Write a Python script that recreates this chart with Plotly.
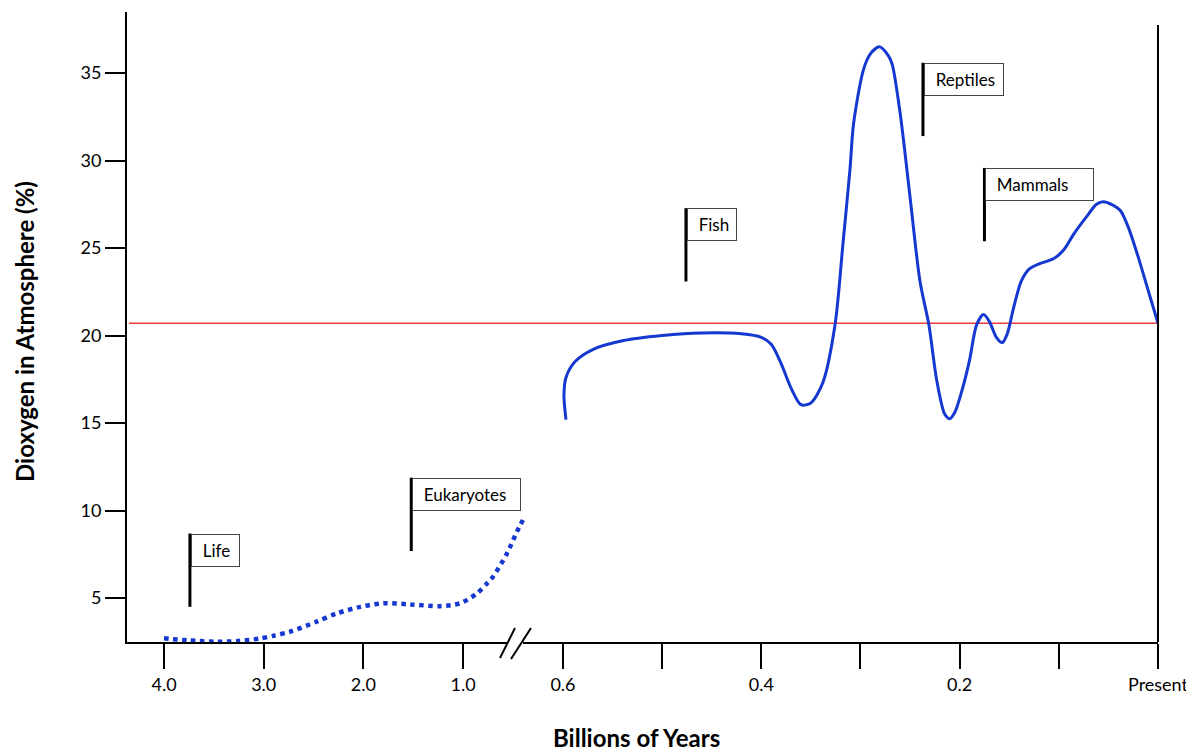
import plotly.graph_objects as go

# ---- data ----
# early Earth (billions of years ago), dotted
early_age = [4.00, 3.75, 3.47, 3.25, 3.05, 2.90, 2.74, 2.47, 2.27, 2.03, 1.80, 1.53,
             1.23, 1.03, 0.86, 0.76, 0.70, 0.56, 0.46, 0.40]
early_o2 = [2.70, 2.58, 2.50, 2.55, 2.68, 2.85, 3.07, 3.65, 4.12, 4.50, 4.70, 4.64,
            4.54, 4.70, 5.27, 5.84, 6.22, 7.55, 8.79, 9.46]

# Phanerozoic (billions of years ago), solid
late_age = [0.597, 0.599, 0.597, 0.588, 0.570, 0.540, 0.500, 0.460, 0.420, 0.400,
            0.390, 0.380, 0.370, 0.360, 0.350, 0.338, 0.3257, 0.3176, 0.3106, 0.307,
            0.297, 0.290, 0.281, 0.272, 0.268, 0.260, 0.250, 0.240, 0.231, 0.223,
            0.215, 0.210, 0.205, 0.198, 0.190, 0.183, 0.176, 0.170, 0.163, 0.157,
            0.152, 0.146, 0.138, 0.130, 0.120, 0.105, 0.095, 0.085, 0.072, 0.062,
            0.055, 0.047, 0.038, 0.030, 0.020, 0.010, 0.000]
late_o2 = [15.2, 16.6, 17.6, 18.5, 19.2, 19.7, 20.0, 20.15, 20.1, 19.9,
           19.5, 18.4, 17.0, 16.05, 16.15, 17.3, 20.6, 25.3, 29.5, 32.1,
           35.2, 36.1, 36.5, 36.0, 35.5, 32.7, 27.9, 23.1, 20.6, 17.4,
           15.5, 15.25, 15.6, 16.8, 18.6, 20.6, 21.2, 20.8, 19.9, 19.6,
           20.1, 21.5, 23.1, 23.8, 24.1, 24.4, 24.9, 25.8, 26.8, 27.5,
           27.65, 27.5, 27.15, 26.2, 24.5, 22.6, 20.7]

present_o2 = 20.7

# event flags
flag_names = ["Life", "Eukaryotes", "Fish", "Reptiles", "Mammals"]
flag_age = [3.74, 1.52, 0.476, 0.237, 0.175]
flag_axis = ["x", "x", "x2", "x2", "x2"]
flag_base = [4.5, 7.69, 23.09, 31.4, 25.39]
flag_pole = 4.19
flag_box_w = [49, 109, 50, 80, 109]

early_ticks = [4.0, 3.0, 2.0, 1.0]
early_tick_text = ["4.0", "3.0", "2.0", "1.0"]
late_ticks = [0.6, 0.5, 0.4, 0.3, 0.2, 0.1, 0.0]
late_tick_text = ["0.6", "", "0.4", "", "0.2", "", "Present"]
y_ticks = [5, 10, 15, 20, 25, 30, 35]

# ---- layout geometry (page has an 8px body margin) ----
OFF = 8
W, H = 1194 - OFF, 751 - OFF
L, R, T, B = 127 - OFF, 36, 12 - OFF, 109
PW = W - L - R
PH = H - T - B
def px(xp):
    return (xp - OFF - L) / PW
def py(yp):
    return (OFF + H - B - yp) / PH

split = px(531)
BLUE = "#1438d0"
FONT = "Lato"

fig = go.Figure()
fig.add_trace(go.Scatter(x=early_age, y=early_o2, xaxis="x", yaxis="y", mode="lines",
                         line=dict(color=BLUE, width=4.5, dash="dot", shape="spline", smoothing=0.8),
                         hoverinfo="skip", showlegend=False))
fig.add_trace(go.Scatter(x=late_age, y=late_o2, xaxis="x2", yaxis="y", mode="lines",
                         line=dict(color=BLUE, width=3, shape="spline", smoothing=0.8),
                         hoverinfo="skip", showlegend=False))

shapes = []
annotations = []
# present-day oxygen level
shapes.append(dict(type="line", xref="paper", yref="y", x0=0.002, x1=1, y0=present_o2, y1=present_o2,
                   line=dict(color="#f03a3a", width=1.5), layer="below"))
# right frame line
shapes.append(dict(type="line", xref="paper", yref="paper", x0=1, x1=1, y0=0, y1=py(25),
                   line=dict(color="black", width=2)))
# axis break
shapes.append(dict(type="rect", xref="paper", yref="paper", x0=px(508), x1=px(523),
                   y0=py(648), y1=py(636), fillcolor="white", line=dict(width=0), layer="above"))
shapes.append(dict(type="line", xref="paper", yref="paper", x0=px(500), y0=py(658), x1=px(515), y1=py(628),
                   line=dict(color="black", width=2)))
shapes.append(dict(type="line", xref="paper", yref="paper", x0=px(511), y0=py(659), x1=px(531), y1=py(628),
                   line=dict(color="black", width=2)))

PAD = 2
for name, a, ax, base, bw in zip(flag_names, flag_age, flag_axis, flag_base, flag_box_w):
    top = base + flag_pole
    shapes.append(dict(type="line", xref=ax, yref="y", x0=a, x1=a, y0=base, y1=top,
                       line=dict(color="black", width=3)))
    annotations.append(dict(xref=ax, yref="y", x=a, y=top, xanchor="left", yanchor="top",
                            text="&nbsp;&nbsp;" + name, showarrow=False, align="left", valign="middle",
                            width=bw - 2 * (PAD + 1), height=33 - 2 * (PAD + 1), borderpad=PAD,
                            borderwidth=1, bordercolor="#444", bgcolor="white",
                            font=dict(family=FONT, size=17, color="black"), xshift=1, yshift=0))

annotations.append(dict(xref="paper", yref="paper", x=px(24), y=py(332), text="<b>Dioxygen in Atmosphere (%)</b>",
                        textangle=-90, showarrow=False, xanchor="center", yanchor="middle",
                        font=dict(family=FONT, size=24, color="black")))
annotations.append(dict(xref="paper", yref="paper", x=px(636), y=py(738), text="<b>Billions of Years</b>",
                        showarrow=False, xanchor="center", yanchor="middle",
                        font=dict(family=FONT, size=24, color="black")))

axis_common = dict(showline=True, linecolor="black", linewidth=2, ticks="outside", tickwidth=2,
                   tickcolor="black", showgrid=False, zeroline=False,
                   tickfont=dict(family=FONT, size=18, color="black"))

fig.update_layout(
    width=W, height=H,
    margin=dict(l=L, r=R, t=T, b=B),
    paper_bgcolor="white", plot_bgcolor="white",
    xaxis=dict(domain=[0, split], range=[4.0 + (164 - 127) / 99.7, 4.0 - (531 - 164) / 99.7],
               tickmode="array", tickvals=early_ticks, ticktext=early_tick_text, ticklen=25,
               anchor="y", **axis_common),
    xaxis2=dict(domain=[split, 1], range=[(1158 - 531) / 991.7, 0.0],
                tickmode="array", tickvals=late_ticks, ticktext=late_tick_text, ticklen=25,
                anchor="y", **axis_common),
    yaxis=dict(range=[2.49, 38.49], tickmode="array", tickvals=y_ticks, ticklen=20,
               anchor="x", **axis_common),
    shapes=shapes, annotations=annotations,
    font=dict(family=FONT),
)

fig.write_html("out.html")
